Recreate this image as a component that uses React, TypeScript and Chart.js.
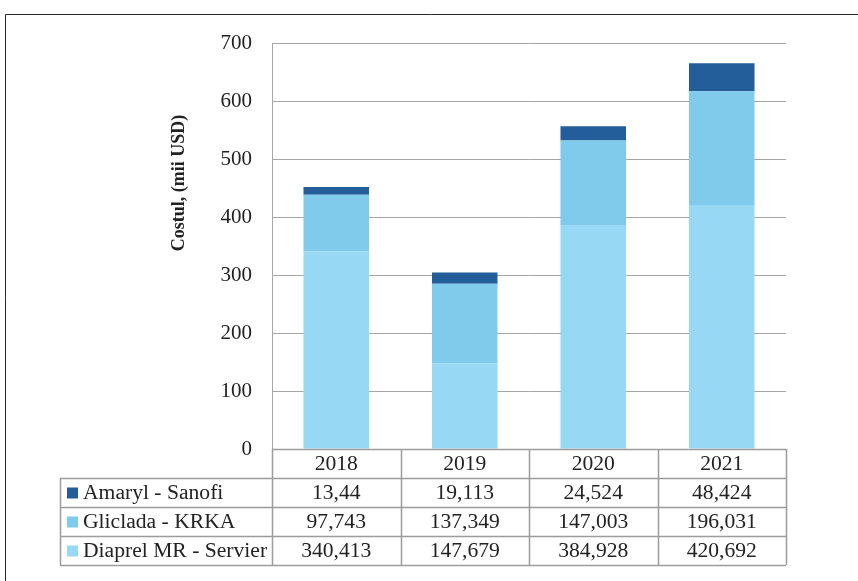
import React, { useEffect, useRef } from "react";
import { Chart, registerables } from "chart.js";

Chart.register(...registerables);

const categories = ["2018", "2019", "2020", "2021"];
const diaprel = [340.413, 147.679, 384.928, 420.692];
const gliclada = [97.743, 137.349, 147.003, 196.031];
const amaryl = [13.44, 19.113, 24.524, 48.424];
const seriesNames = ["Diaprel MR - Servier", "Gliclada - KRKA", "Amaryl - Sanofi"];
const seriesColors = ["#97D8F4", "#80CBEB", "#245E9A"];
const yTicks = [0, 100, 200, 300, 400, 500, 600, 700];
const yTitle = "Costul, (mii USD)";

const FONT = "'Liberation Serif', 'Times New Roman', serif";

const fmt = (v: number) => String(v).replace(".", ",");

const tablePlugin = {
  id: "dataTable",
  afterDraw(chart: any) {
    const ctx = chart.ctx as CanvasRenderingContext2D;
    const area = chart.chartArea;
    const xs = chart.scales.x;
    const n = categories.length;
    const colW = (area.right - area.left) / n;
    const rowH = 29;
    const top = area.bottom;
    const labelLeft = 60;
    ctx.save();
    // outer frame
    ctx.strokeStyle = "#2a2a2a";
    ctx.lineWidth = 1;
    ctx.beginPath();
    ctx.moveTo(5.5, 581);
    ctx.lineTo(5.5, 14.5);
    ctx.lineTo(858, 14.5);
    ctx.stroke();

    // y title
    ctx.fillStyle = "#222";
    ctx.font = `bold 18px ${FONT}`;
    ctx.textAlign = "center";
    ctx.textBaseline = "middle";
    ctx.save();
    ctx.translate(179, 183);
    ctx.rotate(-Math.PI / 2);
    ctx.fillText(yTitle, 0, 0);
    ctx.restore();

    // table lines
    ctx.strokeStyle = "#9c9c9c";
    ctx.lineWidth = 1.5;
    ctx.beginPath();
    for (let i = 0; i <= n; i++) {
      const x = Math.round(area.left + i * colW) + 0.5;
      ctx.moveTo(x, top);
      ctx.lineTo(x, top + rowH * 4);
    }
    ctx.moveTo(area.left, top + 0.5);
    ctx.lineTo(area.right, top + 0.5);
    for (let r = 1; r <= 4; r++) {
      const y = Math.round(top + r * rowH) + 0.5;
      ctx.moveTo(labelLeft, y);
      ctx.lineTo(area.right, y);
    }
    ctx.moveTo(labelLeft + 0.5, top + rowH);
    ctx.lineTo(labelLeft + 0.5, top + rowH * 4);
    ctx.stroke();

    ctx.fillStyle = "#222";
    ctx.font = `21.6px ${FONT}`;
    ctx.textAlign = "center";
    ctx.textBaseline = "middle";
    categories.forEach((c, i) => {
      const cx = xs.getPixelForValue(i);
      ctx.fillText(c, cx, top + rowH * 0.5 + 1);
    });
    const rows = [
      { name: seriesNames[2], color: seriesColors[2], data: amaryl },
      { name: seriesNames[1], color: seriesColors[1], data: gliclada },
      { name: seriesNames[0], color: seriesColors[0], data: diaprel },
    ];
    rows.forEach((row, r) => {
      const cy = top + rowH * (r + 1.5) + 1;
      ctx.fillStyle = row.color;
      ctx.fillRect(67, cy - 6, 11, 11);
      ctx.fillStyle = "#222";
      ctx.textAlign = "left";
      ctx.fillText(row.name, 83, cy);
      ctx.textAlign = "center";
      row.data.forEach((v, i) => {
        ctx.fillText(fmt(v), xs.getPixelForValue(i), cy);
      });
    });
    ctx.restore();
  },
};

export default function App() {
  const ref = useRef<HTMLCanvasElement | null>(null);
  useEffect(() => {
    if (!ref.current) return;
    const chart = new Chart(ref.current, {
      type: "bar",
      data: {
        labels: categories,
        datasets: [
          { label: seriesNames[0], data: diaprel, backgroundColor: seriesColors[0] },
          { label: seriesNames[1], data: gliclada, backgroundColor: seriesColors[1] },
          { label: seriesNames[2], data: amaryl, backgroundColor: seriesColors[2] },
        ].map((d) => ({
          ...d,
          borderWidth: 0,
          categoryPercentage: 1,
          barPercentage: 0.51,
        })),
      },
      options: {
        animation: false,
        responsive: false,
        layout: { padding: { left: 0, top: 43, right: 72, bottom: 132 } },
        plugins: { legend: { display: false }, tooltip: { enabled: false } },
        scales: {
          x: { stacked: true, display: false },
          y: {
            stacked: true,
            min: yTicks[0],
            max: yTicks[yTicks.length - 1],
            afterFit: (axis: any) => {
              axis.width = 272;
            },
            afterBuildTicks: (axis: any) => {
              axis.ticks = yTicks.map((v) => ({ value: v }));
            },
            grid: { color: "#a6a6a6", drawTicks: false, lineWidth: 1 },
            border: { display: true, color: "#a6a6a6" },
            ticks: {
              padding: 20,
              color: "#222",
              font: { family: FONT, size: 21 },
            },
          },
        },
      },
      plugins: [tablePlugin],
    });
    return () => chart.destroy();
  }, []);
  return (
    <div style={{ position: "absolute", left: 0, top: 0, width: 858, height: 581 }}>
      <canvas ref={ref} width={858} height={581} style={{ display: "block" }} />
    </div>
  );
}
